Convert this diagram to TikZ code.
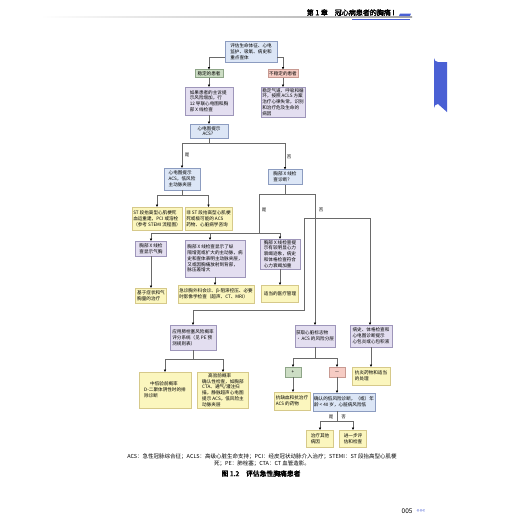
\documentclass[tikz,border=0pt]{standalone}
\usepackage{fontspec}
\setmainfont[AutoFakeBold=2.5]{Noto Sans CJK SC}
\usetikzlibrary{shadows,arrows.meta,calc}
\definecolor{bxblue}{HTML}{DCE6F6}
\definecolor{bdblue}{HTML}{8C9CC0}
\definecolor{bxpur}{HTML}{E3DEF0}
\definecolor{bdpur}{HTML}{9E96BA}
\definecolor{bxyel}{HTML}{FBF6BE}
\definecolor{bdyel}{HTML}{D6C98A}
\definecolor{bxgrn}{HTML}{CCDDC4}
\definecolor{bdgrn}{HTML}{8EA588}
\definecolor{bxpnk}{HTML}{F6CCC4}
\definecolor{bdpnk}{HTML}{C89A92}
\definecolor{ln}{HTML}{6A6A6A}
\definecolor{tabblue}{HTML}{4A60D4}
\tikzset{
  box/.style={draw, line width=0.3pt, inner sep=1.2pt, align=left,
    font=\fontsize{4.6}{5.8}\selectfont,
    drop shadow={shadow xshift=0.9pt, shadow yshift=-0.9pt, fill=black, opacity=0.35}},
  bblue/.style={box, fill=bxblue, draw=bdblue},
  bpur/.style={box, fill=bxpur, draw=bdpur},
  byel/.style={box, fill=bxyel, draw=bdyel},
  bgrn/.style={box, fill=bxgrn, draw=bdgrn},
  bpnk/.style={box, fill=bxpnk, draw=bdpnk},
  conn/.style={draw=ln, line width=0.45pt},
  arr/.style={conn, -{Triangle[length=2.2pt,width=2pt,color=black]}},
  lab/.style={font=\fontsize{4.5}{5}\selectfont, inner sep=0pt},
}
\begin{document}
\begin{tikzpicture}[x=1pt,y=-1pt]
\useasboundingbox (0,0) rectangle (520,520);
% header
\shade[left color=white, right color=gray!70] (40,16.6) rectangle (412,17.6);
\node[font=\fontsize{7}{8}\selectfont\bfseries, anchor=east] (hdr) at (398,12.5) {第 1 章\quad 冠心病患者的胸痛 I};
\draw[tabblue, line width=0.4pt] (352,19.5) -- (410,19.5);
\fill[tabblue] (400,13.5) -- (411,13.5) -- (410,16) -- (399,16) -- cycle;
% right tab
\fill[tabblue] (447,62) -- (438,62) arc[start angle=90,end angle=180,radius=4] -- (434,108) arc[start angle=180,end angle=270,radius=4] -- (447,112) -- cycle;

% nodes
\node[bblue, minimum width=52pt, minimum height=21pt] (top) at (251,52) {评估生命体征、心电\\监护、吸氧、病史和\\重点查体};
\node[bgrn, minimum width=28pt, minimum height=8pt, align=center] (stable) at (209,73.5) {稳定的患者};
\node[bpnk, minimum width=30pt, minimum height=8pt, align=center] (unstable) at (283,73.5) {不稳定的患者};
\node[bpur, minimum width=48pt, minimum height=28pt] (stableTxt) at (209,101) {如果患者的主诉提\\示风险增加，行\\12 导联心电图和胸\\部 X 线检查};
\node[bpur, minimum width=44pt, minimum height=30pt] (unstableTxt) at (283,102) {稳定气道、呼吸和循\\环，按照 ACLS 方案\\治疗心律失常，识别\\和治疗危及生命的\\病因};
\node[bblue, minimum width=38pt, minimum height=14pt, align=center] (ecgACS) at (209,131) {心电图提示\\ACS？};
\node[bblue, minimum width=36pt, minimum height=22pt] (ecgYes) at (182,179) {心电图提示\\ACS，低风险\\主动脉夹层};
\node[bblue, minimum width=34pt, minimum height=15pt] (cxr) at (285,177) {胸部 X 线检\\查诊断？};
\node[byel, minimum width=50pt, minimum height=23pt] (stemi) at (157,218.5) {ST 段抬高型心肌梗死\\血运重建，PCI 或溶栓\\（参考 STEMI 流程图）};
\node[byel, minimum width=44pt, minimum height=23pt] (nstemi) at (208.5,218.5) {非 ST 段抬高型心肌梗\\死或极可能的 ACS\\药物、心脏病学咨询};
\node[bpur, minimum width=31pt, minimum height=15pt] (ptx) at (151,248.5) {胸部 X 线检\\查显示气胸};
\node[bpur, minimum width=60pt, minimum height=37pt] (aorta) at (215,258.5) {胸部 X 线检查显示了纵\\隔增宽或扩大的主动脉，病\\史和查体表明主动脉夹层，\\又或因胸痛放射到背部，\\脉压差增大};
\node[bpur, minimum width=40pt, minimum height=28pt] (hf) at (280,254) {胸部 X 线检查提\\示有较明显心力\\衰竭迹象，病史\\和体格检查符合\\心力衰竭加重};
\node[byel, minimum width=31pt, minimum height=15pt] (ptxTx) at (151,295.5) {基于症状和气\\胸量的治疗};
\node[byel, minimum width=62pt, minimum height=18pt] (aortaTx) at (216,294) {急诊胸外科会诊、β-阻滞控压、必要\\时影像学检查（超声、CT、MRI）};
\node[byel, minimum width=37pt, minimum height=17pt] (hfTx) at (280,293.5) {适当的医疗管理};
\node[bpur, minimum width=46pt, minimum height=25pt] (pe) at (193,337.5) {应用肺栓塞风险概率\\评分系统（见 PE 预\\测规则表）};
\node[byel, minimum width=52pt, minimum height=36pt] (lowPE) at (165,390) {\hspace{6pt}中低验前概率\\D-二聚体阴性时的排\\除诊断};
\node[byel, minimum width=51pt, minimum height=36pt] (highPE) at (223,390) {\hspace{6pt}高验前概率\\确认性检查，如胸部\\CTA、通气/灌注扫\\描，静脉超声心电图\\提示 ACS，低风险主\\动脉夹层};
\node[bpur, minimum width=38pt, minimum height=22pt] (marker) at (315,336) {获取心脏标志物\\• ACS 的风险分层};
\node[bgrn, minimum width=16pt, minimum height=10pt, align=center] (plus) at (293,372) {+};
\node[bpnk, minimum width=16pt, minimum height=10pt, align=center] (minus) at (337,372) {$-$};
\node[byel, minimum width=36pt, minimum height=18pt] (plusTx) at (292,401) {抗缺血和抗治疗\\ACS 的药物};
\node[bblue, minimum width=62pt, minimum height=18pt] (minusTx) at (344,402) {确认的低风险诊断，（或）年\\龄 < 40 岁，心脏病风险低};
\node[byel, minimum width=27pt, minimum height=17pt] (other) at (320,438.5) {治疗其他\\病因};
\node[byel, minimum width=27pt, minimum height=17pt] (further) at (353,438.5) {进一步评\\估和检查};
\node[bpur, minimum width=42pt, minimum height=22pt] (peri) at (371,336) {病史、体格检查和\\心电图诊断提示\\心包炎或心包积液};
\node[byel, minimum width=38pt, minimum height=18pt] (periTx) at (371,376) {抗炎药物和适当\\的处理};

% connectors
\draw[arr] ($(top.west)+(0,5)$) -| (stable.north);
\draw[arr] ($(top.east)+(0,5)$) -| (unstable.north);
\draw[arr] (stable.south) -- (stableTxt.north);
\draw[arr] (unstable.south) -- (unstableTxt.north);
\draw[arr] (stableTxt.south) -- (ecgACS.north);
\coordinate (b1) at ($(ecgACS.south)+(0,5)$);
\draw[conn] (ecgACS.south) -- (b1);
\draw[arr] (b1) -| (ecgYes.north);
\draw[arr] (b1) -| (cxr.north);
\node[lab] (l1) at (187,155) {是};
\node[lab] (l2) at (289,157) {否};
\coordinate (b2) at ($(ecgYes.south)+(0,5)$);
\draw[conn] (ecgYes.south) -- (b2);
\draw[arr] (b2) -| (stemi.north);
\draw[arr] (b2) -| (nstemi.north);
\coordinate (b3) at ($(cxr.south)+(0,9.5)$);
\coordinate (yesX) at (259,194);
\coordinate (noX) at (315,194);
\draw[conn] (cxr.south) -- (b3);
\draw[conn] (yesX) -- (noX);
\node[lab] (l3) at (264,210) {是};
\node[lab] (l4) at (321,210) {否};
\coordinate (h0) at (259,233);
\coordinate (h1) at (151,233);
\coordinate (h2) at (210,233);
\coordinate (h3) at (280,233);
\draw[conn] (yesX) -- (h0);
\draw[conn] (h1) -- (h3);
\draw[arr] (h1) -- (h1 |- ptx.north);
\draw[arr] (h2) -- (h2 |- aorta.north);
\draw[arr] (h3) -- (h3 |- hf.north);
\draw[arr] (ptx.south) -- (ptxTx.north);
\draw[arr] (aorta.south) -- (aorta.south |- aortaTx.north);
\draw[arr] (hf.south) -- (hfTx.north);
\coordinate (n1) at (315,218);
\coordinate (n2) at (304,218);
\coordinate (n3) at (370,218);
\coordinate (n4) at (304,310);
\coordinate (n5) at (193,310);
\draw[conn] (noX) -- (n1);
\draw[arr] (n1) -- (n1 |- marker.north);
\draw[conn] (n2) -- (n3);
\draw[arr] (n3) -- (n3 |- peri.north);
\draw[conn] (n2) -- (n4) -- (n5);
\draw[arr] (n5) -- (pe.north);
\coordinate (p1) at (193,359);
\draw[conn] (pe.south) -- (p1);
\draw[arr] (p1) -| (lowPE.north);
\draw[arr] (p1) -| (highPE.north);
\coordinate (m1) at (315,358);
\draw[conn] (marker.south) -- (m1);
\draw[arr] (m1) -| (plus.north);
\draw[arr] (m1) -| (minus.north);
\draw[arr] (plus.south) -- (plus.south |- plusTx.north);
\draw[arr] (minus.south) -- (minus.south |- minusTx.north);
\coordinate (q0) at (337,421);
\draw[conn] (minus.south |- minusTx.south) -- (q0);
\draw[arr] (q0) -| (other.north);
\draw[arr] (q0) -| (further.north);
\node[lab] (l5) at (331,416.5) {是};
\node[lab] (l6) at (343.5,416.5) {否};
\draw[arr] (peri.south) -- (periTx.north);

% caption
\node[font=\fontsize{5.5}{7}\selectfont, align=center] (cap) at (262,460.5) {ACS：急性冠脉综合征；ACLS：高级心脏生命支持；PCI：经皮冠状动脉介入治疗；STEMI：ST 段抬高型心肌梗\\死；PE：肺栓塞；CTA：CT 血管造影。};
\node[font=\fontsize{6.8}{8}\selectfont\bfseries] (fig) at (261,473.5) {图 1.2\quad 评估急性胸痛患者};
\node[font=\fontsize{6.5}{8}\selectfont, anchor=east] (pg) at (416,511.5) {005};
\node[font=\fontsize{6}{8}\selectfont, text=tabblue, anchor=west, inner sep=0.5pt] (pgm) at (416,511.5) {«««};
\end{tikzpicture}
\end{document}
